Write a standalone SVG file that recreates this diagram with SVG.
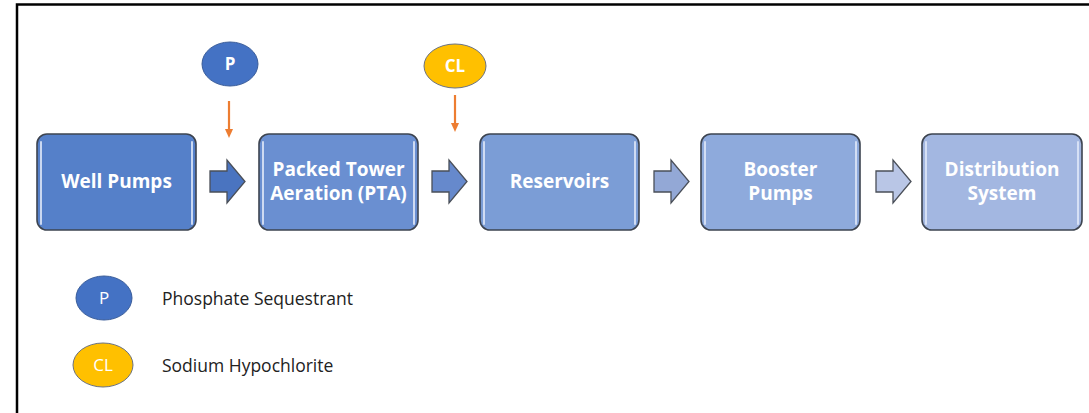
<svg xmlns="http://www.w3.org/2000/svg" width="1089" height="413" viewBox="0 0 1089 413">
<defs>
<style>
.box{stroke:#3d4450;stroke-width:1.6}
.hl{fill:none;stroke:#dfe8f8;stroke-width:2;stroke-linecap:round;opacity:0.85}
.lbl{font-family:"Open Sans","Liberation Sans",sans-serif;font-weight:bold;font-size:19px;fill:#ffffff;text-anchor:middle}
.clbl{font-family:"Open Sans","Liberation Sans",sans-serif;font-weight:bold;font-size:17px;fill:#ffffff;text-anchor:middle}
.leg{font-family:"Open Sans","Liberation Sans",sans-serif;font-size:17.5px;fill:#222222}
.legc{font-family:"Open Sans","Liberation Sans",sans-serif;font-size:17px;fill:#ffffff;text-anchor:middle}
.blk{stroke:#4a4f58;stroke-width:1.3}
.inj{stroke:#ed7d31;stroke-width:2.2;fill:none}
</style>
<marker id="oh" markerWidth="9" markerHeight="8" refX="4" refY="4" orient="auto" markerUnits="userSpaceOnUse">
<path d="M0,0 L9,4 L0,8 z" fill="#ed7d31"/>
</marker>
</defs>
<rect x="0" y="0" width="1089" height="413" fill="#ffffff"/>
<path d="M17,413 V4.5 H1089" fill="none" stroke="#000" stroke-width="2.5"/>

<g id="well-pumps">
<rect class="box" x="37" y="134" width="159" height="96" rx="10" fill="#5580c9"/>
<path class="hl" d="M41,142 V224 M192,142 V224"/>
<text class="lbl" x="116.5" y="188">Well Pumps</text>
</g>
<g id="pta">
<rect class="box" x="259" y="134" width="159" height="96" rx="10" fill="#6a8fd1"/>
<path class="hl" d="M263,142 V224 M414,142 V224"/>
<text class="lbl" x="338.5" y="176">Packed Tower</text>
<text class="lbl" x="338.5" y="200">Aeration (PTA)</text>
</g>
<g id="reservoirs">
<rect class="box" x="480" y="134" width="159" height="96" rx="10" fill="#7b9dd6"/>
<path class="hl" d="M484,142 V224 M635,142 V224"/>
<text class="lbl" x="559.5" y="188">Reservoirs</text>
</g>
<g id="booster-pumps">
<rect class="box" x="701" y="134" width="159" height="96" rx="10" fill="#8eaadc"/>
<path class="hl" d="M705,142 V224 M856,142 V224"/>
<text class="lbl" x="780.5" y="176">Booster</text>
<text class="lbl" x="780.5" y="200">Pumps</text>
</g>
<g id="distribution-system">
<rect class="box" x="922" y="134" width="160" height="96" rx="10" fill="#a3b7e1"/>
<path class="hl" d="M926,142 V224 M1078,142 V224"/>
<text class="lbl" x="1002" y="176">Distribution</text>
<text class="lbl" x="1002" y="200">System</text>
</g>

<g id="connectors">
<path class="blk" d="M210,171 H227 V160 L245,181.5 L227,203 V192 H210 Z" fill="#4a74c0"/>
<path class="blk" d="M432,171 H449 V160 L467,181.5 L449,203 V192 H432 Z" fill="#6689cc"/>
<path class="blk" d="M654,171 H671 V160 L689,181.5 L671,203 V192 H654 Z" fill="#93a8d6"/>
<path class="blk" d="M876,171 H893 V160 L911,181.5 L893,203 V192 H876 Z" fill="#b9c6e6"/>
<line class="inj" x1="229" y1="101" x2="229" y2="133" marker-end="url(#oh)"/>
<line class="inj" x1="455" y1="95" x2="455" y2="127" marker-end="url(#oh)"/>
</g>

<g id="p-injection">
<ellipse cx="230" cy="64" rx="28" ry="22" fill="#4472c4" stroke="#3a5d9a" stroke-width="1"/>
<text class="clbl" x="230" y="70">P</text>
</g>
<g id="cl-injection">
<ellipse cx="455" cy="66" rx="31" ry="22" fill="#ffc000" stroke="#6b7280" stroke-width="1"/>
<text class="clbl" x="455" y="72">CL</text>
</g>

<g id="legend-p">
<ellipse cx="104" cy="298" rx="28" ry="22" fill="#4472c4" stroke="#3a5d9a" stroke-width="1"/>
<text class="legc" x="104" y="304">P</text>
<text class="leg" x="162" y="305">Phosphate Sequestrant</text>
</g>
<g id="legend-cl">
<ellipse cx="103" cy="365" rx="30" ry="22" fill="#ffc000" stroke="#6b7280" stroke-width="1"/>
<text class="legc" x="103" y="371">CL</text>
<text class="leg" x="162" y="372">Sodium Hypochlorite</text>
</g>
</svg>
